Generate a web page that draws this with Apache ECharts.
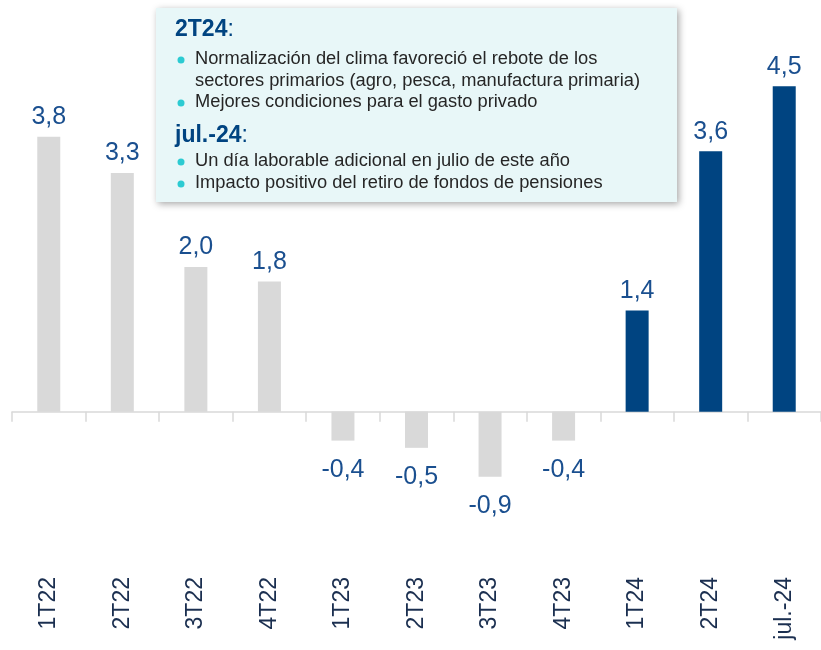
<!DOCTYPE html>
<html>
<head>
<meta charset="utf-8">
<script src="https://cdn.jsdelivr.net/npm/echarts@6/dist/echarts.min.js"></script>
<style>html,body{margin:0;padding:0;background:#fff;}#c{width:821px;height:650px;}</style>
</head>
<body>
<div id="c"></div>
<script>
var categories = ['1T22','2T22','3T22','4T22','1T23','2T23','3T23','4T23','1T24','2T24','jul.-24'];
var values = [3.8, 3.3, 2.0, 1.8, -0.4, -0.5, -0.9, -0.4, 1.4, 3.6, 4.5];
var highlighted = ['1T24','2T24','jul.-24'];
var note1Title = '2T24';
var note1Items = ['Normalización del clima favoreció el rebote de los', 'sectores primarios (agro, pesca, manufactura primaria)', 'Mejores condiciones para el gasto privado'];
var note1Bullets = [true, false, true];
var note2Title = 'jul.-24';
var note2Items = ['Un día laborable adicional en julio de este año', 'Impacto positivo del retiro de fondos de pensiones'];

var FONT = '"Liberation Sans", Arial, sans-serif';
var NAVY = '#004481';
var GRAY = '#d9d9d9';
var LABEL = '#1a4f8f';
var TEXT = '#262626';
var TEAL = '#2ccbd2';

var chart = echarts.init(document.getElementById('c'), null, {renderer: 'canvas'});

var barData = values.map(function (v, i) {
  var hi = highlighted.indexOf(categories[i]) >= 0;
  return {
    value: v,
    itemStyle: {color: hi ? NAVY : GRAY},
    label: {position: v < 0 ? 'bottom' : 'top', distance: v < 0 ? 17 : 7}
  };
});

var graphics = [];
var boxL = 156, boxT = 8, boxW = 521, boxH = 194;
graphics.push({
  type: 'rect', left: boxL, top: boxT, shape: {width: boxW, height: boxH},
  style: {fill: '#e8f7f8', shadowBlur: 7, shadowColor: 'rgba(0,0,0,0.35)', shadowOffsetX: 2, shadowOffsetY: 2},
  z: 10
});
function addTitle(t, cy) {
  graphics.push({
    type: 'text', x: 175, y: cy, z: 11,
    style: {
      text: '{b|' + t + '}{n|:}', verticalAlign: 'middle', align: 'left',
      rich: {
        b: {fontFamily: FONT, fontSize: 23, fontWeight: 'bold', fill: NAVY},
        n: {fontFamily: FONT, fontSize: 23, fill: NAVY}
      }
    }
  });
}
function addItem(t, cy, bullet) {
  if (bullet) {
    graphics.push({type: 'circle', shape: {cx: 181, cy: cy + 1, r: 3.5}, style: {fill: TEAL}, z: 11});
  }
  graphics.push({
    type: 'text', x: 195, y: cy, z: 11,
    style: {text: t, fontFamily: FONT, fontSize: 18.3, fill: TEXT, verticalAlign: 'middle', align: 'left'}
  });
}
addTitle(note1Title, 30);
note1Items.forEach(function (t, i) { addItem(t, 59 + i * 21.5, note1Bullets[i]); });
addTitle(note2Title, 136);
note2Items.forEach(function (t, i) { addItem(t, 161 + i * 22, true); });

chart.setOption({
  animation: false,
  backgroundColor: '#fff',
  grid: {left: 12, right: -4, top: 50, bottom: 166, containLabel: false},
  xAxis: [{
    type: 'category', data: categories,
    axisLine: {show: true, onZero: true, lineStyle: {color: GRAY, width: 1.5}},
    axisTick: {show: true, length: 10, lineStyle: {color: GRAY, width: 1.5}},
    axisLabel: {show: false}
  }, {
    type: 'category', data: categories, position: 'bottom',
    axisLine: {show: false, onZero: false},
    axisTick: {show: false},
    axisLabel: {show: true, rotate: 90, margin: 93, color: '#1b2f50', fontFamily: FONT, fontSize: 23}
  }],
  yAxis: {type: 'value', min: -1, max: 5, show: false, splitLine: {show: false}},
  series: [{
    type: 'bar', data: barData, barWidth: 23, xAxisIndex: 0,
    label: {
      show: true, color: LABEL, fontFamily: FONT, fontSize: 25,
      formatter: function (p) { return String(p.value.toFixed(1)).replace('.', ','); }
    }
  }],
  graphic: graphics
});
</script>
</body>
</html>
